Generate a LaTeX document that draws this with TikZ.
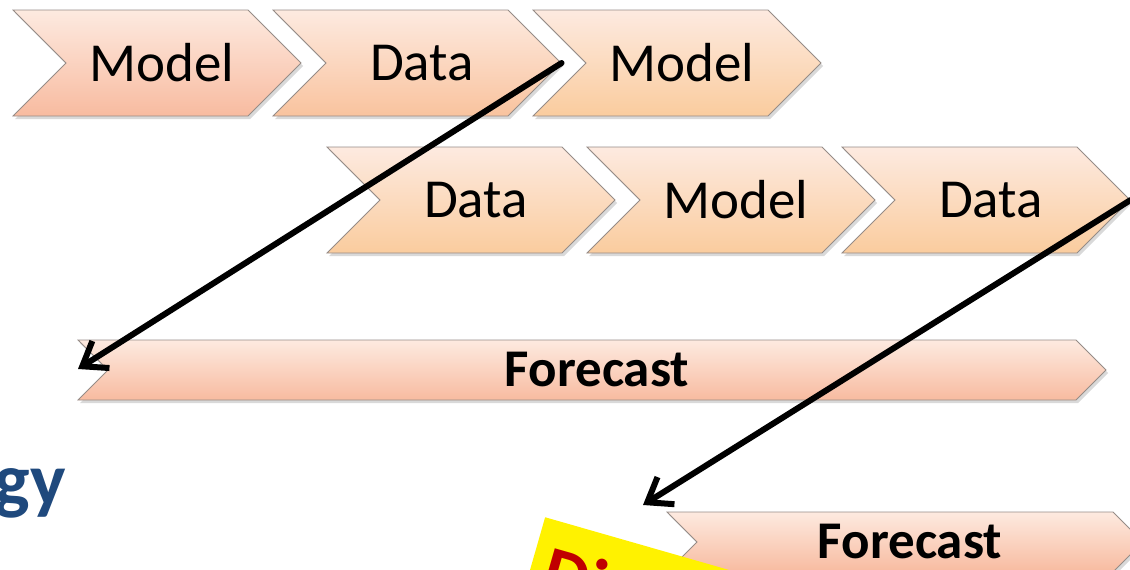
\documentclass[tikz,border=0pt]{standalone}
\usepackage{fontspec}
\setmainfont{Carlito}
\usetikzlibrary{shapes.symbols,shadows,arrows.meta}

\definecolor{paletop}{RGB}{253,234,224}
\definecolor{salmon}{RGB}{248,187,160}
\definecolor{coral}{RGB}{249,195,158}
\definecolor{apricot}{RGB}{250,204,158}
\definecolor{edgegray}{RGB}{150,140,135}
\definecolor{titleblue}{RGB}{31,73,125}
\definecolor{warnred}{RGB}{192,0,0}

\begin{document}
\begin{tikzpicture}
  [x=1pt,y=-1pt,
   stage/.style={signal,signal from=west,signal to=east,
      signal pointer angle=90,draw=edgegray,line width=0.8pt,
      top color=paletop,bottom color=#1,
      minimum width=288pt,minimum height=106pt,inner sep=0pt,
      font=\fontsize{55}{60}\selectfont,
      drop shadow={opacity=0.3,shadow xshift=2pt,shadow yshift=-3pt}},
   band/.style={stage=salmon,minimum height=60pt,
      font=\bfseries\fontsize{53}{58}\selectfont},
   jump/.style={line width=6pt,line cap=round,
      -{Straight Barb[length=22pt,width=32pt]}}]
  \clip (0,0) rectangle (1130,570);

  % first run of stages
  \foreach \lbl/\x/\col [count=\i] in
      {Model/157/salmon,Data/417/coral,Model/677/apricot}
    \node (top\i) [stage=\col] at (\x,63) {\hspace*{10pt}\lbl};

  % second run, shifted right
  \foreach \lbl/\x [count=\i] in {Data/471,Model/731,Data/986}
    \node (low\i) [stage=apricot] at (\x,200) {\hspace*{10pt}\lbl};

  \node (fc1) [band,minimum width=1028pt] at (592,370) {\hspace*{10pt}Forecast};
  \node (fc2) [band,minimum width=476pt] at (905,542) {\hspace*{10pt}Forecast};

  \node (alarm) [anchor=north west,rotate=-16,fill=yellow,
    text width=360pt,inner xsep=14pt,inner ysep=24pt,align=left,
    font=\bfseries\fontsize{72}{76}\selectfont,text=warnred]
    at (545,517) {Di};

  \node (title) [anchor=base east,inner sep=0pt,text=titleblue,
    font=\bfseries\fontsize{75}{80}\selectfont] at (66,505) {gy};

  \coordinate (hit1) at (78,369);
  \coordinate (hit2) at (643,505);
  \draw[jump] (top2.east) -- (hit1);
  \draw[jump] (low3.east) -- (hit2);
\end{tikzpicture}
\end{document}
